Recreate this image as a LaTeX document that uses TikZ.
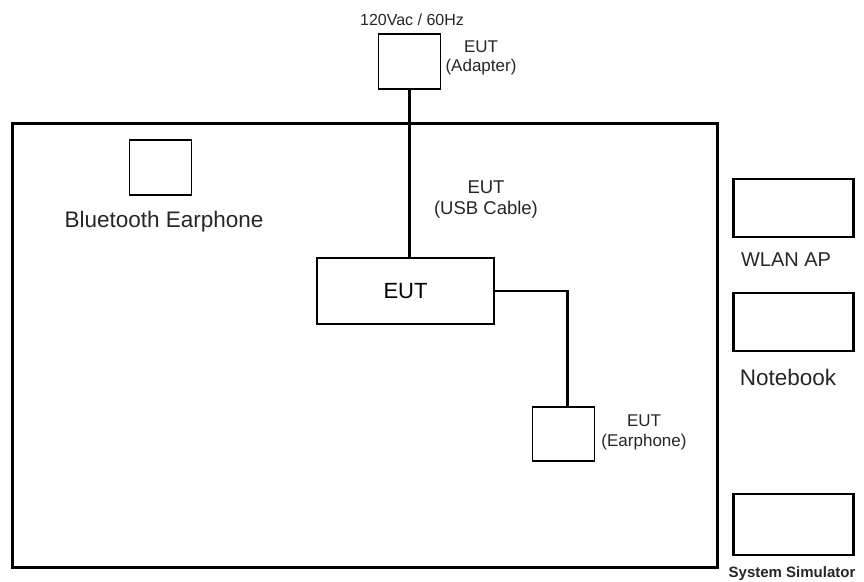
\documentclass[tikz,border=0pt]{standalone}
\usepackage{fontspec}
\setmainfont{Liberation Sans}
\usetikzlibrary{positioning}

\tikzset{
    thinbox/.style={draw, line width=1.4pt, minimum width=62pt, minimum height=55pt, inner sep=0pt},
    thickbox/.style={draw, line width=2.6pt, minimum width=120pt, minimum height=58pt, inner sep=0pt},
    cable/.style={line width=2.8pt},
    lbl/.style={inner sep=0pt, align=center, text=black!85}
}

\begin{document}
\begin{tikzpicture}[x=1pt, y=-1pt]
    \useasboundingbox (0,0) rectangle (864,581);

    % Mặt bàn thử nghiệm
    \node[draw, line width=2.8pt, minimum width=705pt, minimum height=444pt, inner sep=0pt] (table) at (365,345.5) {};

    % Bộ sạc
    \node[thinbox] (adapter) at (409.5,61.5) {};
    \node[lbl, font=\fontsize{16}{18}\selectfont] (mains) at (412,20) {120Vac / 60Hz};
    \node[lbl, font=\fontsize{17}{19}\selectfont] (adapterlbl) at (481,58) {EUT\\(Adapter)};

    % Thiết bị chính
    \node[thickbox, minimum width=177pt, minimum height=66pt, font=\fontsize{22}{24}\selectfont] (eut) at (405.5,291) {EUT};
    \node[lbl, font=\fontsize{18.5}{21}\selectfont] (usblbl) at (486,200) {EUT\\(USB Cable)};

    % Tai nghe
    \node[thinbox, minimum width=62pt, minimum height=54pt] (earphone) at (563.5,434) {};
    \node[lbl, font=\fontsize{17}{20}\selectfont] (earphonelbl) at (644,432) {EUT\\(Earphone)};
    \coordinate (earin) at ([xshift=4pt]earphone.north);

    % Tai nghe Bluetooth
    \node[lbl, font=\fontsize{22.5}{24}\selectfont] (btlbl) at (164,222) {Bluetooth Earphone};
    \node[thinbox] (bt) at (160.5,167.5) {};

    % Thiết bị phụ bên phải
    \node[thickbox] (wlan) at (793.5,208) {};
    \node[lbl, font=\fontsize{20}{22}\selectfont] (wlanlbl) at (786,260) {WLAN AP};
    \node[thickbox] (notebook) at (793.5,322) {};
    \node[lbl, font=\fontsize{22.5}{24}\selectfont] (notebooklbl) at (788,377) {Notebook};
    \node[thickbox, minimum height=61pt] (simulator) at (793.5,524.5) {};
    \node[lbl, font=\bfseries\fontsize{15}{17}\selectfont] (simlbl) at (792,574) {System Simulator};

    % Dây nối
    \draw[cable] (adapter.south) -- (adapter.south |- eut.north);
    \draw[cable] (eut.east) -| (earin);
\end{tikzpicture}
\end{document}
